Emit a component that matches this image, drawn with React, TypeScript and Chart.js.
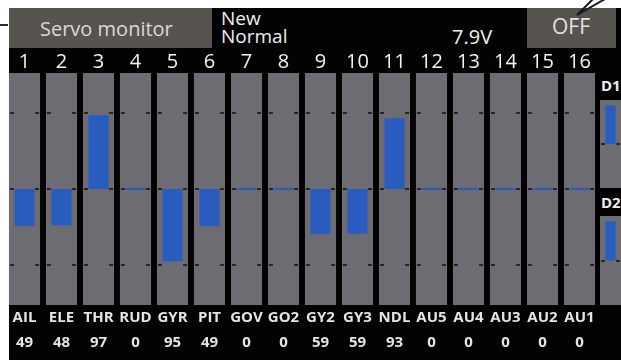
import React, { useEffect, useRef } from "react";
import { Chart, registerables } from "chart.js";

Chart.register(...registerables);

// ---- data ----
const channelNumbers = ["1", "2", "3", "4", "5", "6", "7", "8", "9", "10", "11", "12", "13", "14", "15", "16"];
const functionNames = ["AIL", "ELE", "THR", "RUD", "GYR", "PIT", "GOV", "GO2", "GY2", "GY3", "NDL", "AU5", "AU4", "AU3", "AU2", "AU1"];
// signed servo position in % (negative = downward bar)
const servoPositions = [-49, -48, 97, 0, -95, -49, 0, 0, -59, -59, 93, 0, 0, 0, 0, 0];
const displayedValues = ["49", "48", "97", "0", "95", "49", "0", "0", "59", "59", "93", "0", "0", "0", "0", "0"];
const markerLevels = [100, 0, -100];
const scaleLimit = 152.6;

const dialLabels = ["D1", "D2"];
const dialPositions = [88, 88];
const dialLimit = 100;

// ---- styles ----
const FONT = "'Open Sans', 'DejaVu Sans', sans-serif";
const COL_GRAY = "#6d6c73";
const BAR_BLUE = "#2a5cc0";
const DASH = "#26262a";
const HEAD_GRAY = "#57534f";

const dashPlugin = (levels: number[], inset: number, len: number) => ({
  id: "servoDashes",
  afterDatasetsDraw(chart: any) {
    const ctx = chart.ctx;
    const ys = chart.scales.y;
    const meta = chart.getDatasetMeta(0);
    ctx.save();
    ctx.strokeStyle = DASH;
    ctx.lineWidth = 2;
    meta.data.forEach((bar: any) => {
      const hw = bar.width / 2;
      const cx = bar.x;
      levels.forEach((lv) => {
        const y = Math.round(ys.getPixelForValue(lv));
        ctx.beginPath();
        ctx.moveTo(cx - hw + inset, y);
        ctx.lineTo(cx - hw + inset + len, y);
        ctx.moveTo(cx + hw - inset - len, y);
        ctx.lineTo(cx + hw - inset, y);
        ctx.stroke();
      });
    });
    ctx.restore();
  },
});

const textPlugin = {
  id: "servoTexts",
  afterDraw(chart: any) {
    const ctx = chart.ctx;
    const xs = chart.scales.x;
    ctx.save();
    ctx.textAlign = "center";
    ctx.textBaseline = "alphabetic";
    channelNumbers.forEach((t, i) => {
      ctx.fillStyle = "#f2f2f2";
      ctx.font = `20px ${FONT}`;
      ctx.fillText(t, xs.getPixelForValue(i), 68);
    });
    functionNames.forEach((t, i) => {
      ctx.fillStyle = "#e4e4e4";
      ctx.font = `bold 15px ${FONT}`;
      ctx.fillText(t, xs.getPixelForValue(i), 322);
    });
    displayedValues.forEach((t, i) => {
      ctx.fillStyle = "#e4e4e4";
      ctx.font = `bold 15px ${FONT}`;
      ctx.fillText(t, xs.getPixelForValue(i), 347);
    });
    ctx.restore();
  },
};

function MainChart() {
  const ref = useRef<HTMLCanvasElement>(null);
  useEffect(() => {
    if (!ref.current) return;
    const chart = new Chart(ref.current, {
      type: "bar",
      data: {
        labels: functionNames,
        datasets: [
          {
            label: "range",
            data: functionNames.map(() => [-scaleLimit, scaleLimit]) as any,
            backgroundColor: COL_GRAY,
            barPercentage: 0.84,
            categoryPercentage: 1,
            grouped: false,
            order: 2,
          },
          {
            label: "position",
            data: servoPositions,
            backgroundColor: BAR_BLUE,
            barPercentage: 0.54,
            categoryPercentage: 1,
            grouped: false,
            order: 1,
            minBarLength: 2,
          },
        ],
      },
      options: {
        animation: false,
        responsive: false,
        events: [],
        layout: { padding: { left: 6, right: 23, top: 73, bottom: 55 } },
        plugins: { legend: { display: false }, tooltip: { enabled: false } },
        scales: {
          x: { display: false, offset: true, grid: { display: false } },
          y: { display: false, min: -scaleLimit, max: scaleLimit },
        },
      },
      plugins: [dashPlugin(markerLevels, 1, 4), textPlugin],
    });
    return () => chart.destroy();
  }, []);
  return (
    <canvas
      ref={ref}
      width={621}
      height={360}
      style={{ position: "absolute", left: 0, top: 0, width: 621, height: 360 }}
    />
  );
}

function DialChart({ index, top, height }: { index: number; top: number; height: number }) {
  const ref = useRef<HTMLCanvasElement>(null);
  useEffect(() => {
    if (!ref.current) return;
    const chart = new Chart(ref.current, {
      type: "bar",
      data: {
        labels: [dialLabels[index]],
        datasets: [
          {
            label: "range",
            data: [[-dialLimit, dialLimit]] as any,
            backgroundColor: COL_GRAY,
            barPercentage: 1,
            categoryPercentage: 1,
            grouped: false,
            order: 2,
          },
          {
            label: "position",
            data: [dialPositions[index]],
            backgroundColor: BAR_BLUE,
            barPercentage: 0.48,
            categoryPercentage: 1,
            grouped: false,
            order: 1,
            minBarLength: 2,
          },
        ],
      },
      options: {
        animation: false,
        responsive: false,
        events: [],
        layout: { padding: 0 },
        plugins: { legend: { display: false }, tooltip: { enabled: false } },
        scales: {
          x: { display: false, offset: true },
          y: { display: false, min: -dialLimit, max: dialLimit },
        },
      },
      plugins: [dashPlugin([0], 1, 4)],
    });
    return () => chart.destroy();
  }, [index]);
  return (
    <canvas
      ref={ref}
      width={21}
      height={height}
      style={{ position: "absolute", left: 600, top, width: 21, height }}
    />
  );
}

const abs = (s: React.CSSProperties): React.CSSProperties => ({ position: "absolute", whiteSpace: "nowrap", ...s });

export default function App() {
  useEffect(() => {
    document.body.style.margin = "0";
  }, []);
  return (
    <div
      style={{
        position: "relative",
        width: 621,
        height: 360,
        background: "#ffffff",
        overflow: "hidden",
        fontFamily: FONT,
      }}
    >
      <div style={abs({ left: 9, top: 8, width: 612, height: 352, background: "#030303" })} />
      <div style={abs({ left: 9, top: 8, width: 203, height: 40, background: HEAD_GRAY })} />
      <div style={abs({ left: 527, top: 8, width: 89, height: 40, background: HEAD_GRAY })} />
      <div style={abs({ left: 0, top: 24, width: 8, height: 2, background: "#2a2a2a" })} />
      <div style={abs({ left: 40, top: 19.2, fontSize: 20, lineHeight: "20px", color: "#d9d9d9" })}>Servo monitor</div>
      <div style={abs({ left: 221, top: 9.1, fontSize: 19, lineHeight: "18px", color: "#f0f0f0" })}>
        New
        <br />
        Normal
      </div>
      <div style={abs({ left: 452, top: 27.2, fontSize: 20, lineHeight: "20px", color: "#f0f0f0" })}>7.9V</div>
      <div style={abs({ left: 552, top: 16.4, fontSize: 21, lineHeight: "21px", color: "#e2e2e2" })}>OFF</div>
      <div style={abs({ left: 601, top: 78, fontSize: 15, lineHeight: "15px", fontWeight: "bold", color: "#eeeeee" })}>
        {dialLabels[0]}
      </div>
      <div style={abs({ left: 601, top: 195, fontSize: 15, lineHeight: "15px", fontWeight: "bold", color: "#eeeeee" })}>
        {dialLabels[1]}
      </div>
      <MainChart />
      <DialChart index={0} top={100} height={88} />
      <DialChart index={1} top={216} height={89} />
      <svg width={621} height={360} style={abs({ left: 0, top: 0, pointerEvents: "none" })}>
        <polyline points="593,-1 577,15 605,-1" fill="none" stroke="#1a1a1a" strokeWidth={2} />
      </svg>
    </div>
  );
}
